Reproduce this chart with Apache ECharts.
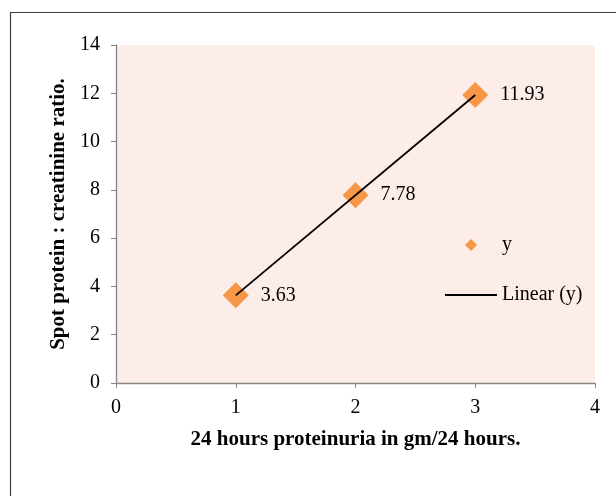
<!DOCTYPE html>
<html>
<head>
<meta charset="utf-8">
<script src="https://cdn.jsdelivr.net/npm/echarts@6/dist/echarts.min.js"></script>
<style>html,body{margin:0;padding:0;background:#fff;}#c{width:616px;height:496px;}</style>
</head>
<body>
<div id="c"></div>
<script>
const xValues = [1, 2, 3];
const yValues = [3.63, 7.78, 11.93];
const xTicks = [0, 1, 2, 3, 4];
const yTicks = [0, 2, 4, 6, 8, 10, 12, 14];
const seriesName = 'y';
const trendName = 'Linear (y)';
const xTitle = '24 hours proteinuria in gm/24 hours.';
const yTitle = 'Spot protein : creatinine ratio.';

// least-squares linear fit
const n = xValues.length;
const mx = xValues.reduce((a,b)=>a+b,0)/n;
const my = yValues.reduce((a,b)=>a+b,0)/n;
let sxy=0, sxx=0;
for (let i=0;i<n;i++){ sxy+=(xValues[i]-mx)*(yValues[i]-my); sxx+=(xValues[i]-mx)**2; }
const slope = sxy/sxx, icpt = my - slope*mx;
const xmin = Math.min(...xValues), xmax = Math.max(...xValues);
const trend = [[xmin, slope*xmin+icpt],[xmax, slope*xmax+icpt]];

const font = '"Liberation Serif", "Times New Roman", serif';
const chart = echarts.init(document.getElementById('c'));
chart.setOption({
  animation:false,
  textStyle:{fontFamily:font},
  graphic:[{type:'rect', shape:{x:10.5,y:12.5,width:640,height:520}, style:{fill:null, stroke:'#404040', lineWidth:1.2}, silent:true}],
  grid:{left:116, right:21, top:45, bottom:113, show:true, backgroundColor:'#fcede8', borderWidth:0},
  legend:{orient:'vertical', left:445, top:235, padding:0, itemWidth:52, itemHeight:12, itemGap:30,
    textStyle:{fontFamily:font, fontSize:20, color:'#000'},
    data:[{name:seriesName, icon:'path://M5,0 L10,5 L5,10 L0,5 Z'},
          {name:trendName, icon:'path://M0,0 L52,0 L52,1.8 L0,1.8 Z'}]},
  xAxis:{type:'value', min:xTicks[0], max:xTicks[xTicks.length-1], interval:1,
    name:xTitle, nameLocation:'middle', nameGap:46,
    nameTextStyle:{fontFamily:font, fontSize:21, fontWeight:'bold', color:'#000'},
    axisLine:{lineStyle:{color:'#868686', width:1.3}},
    axisTick:{show:true, length:5, lineStyle:{color:'#868686'}},
    axisLabel:{fontFamily:font, fontSize:20, color:'#000', margin:15},
    splitLine:{show:false}},
  yAxis:{type:'value', min:yTicks[0], max:yTicks[yTicks.length-1], interval:2,
    name:yTitle, nameLocation:'middle', nameGap:39, nameRotate:90,
    nameTextStyle:{fontFamily:font, fontSize:21, fontWeight:'bold', color:'#000'},
    axisLine:{show:true, lineStyle:{color:'#868686', width:1.3}},
    axisTick:{show:true, length:5, lineStyle:{color:'#868686'}},
    axisLabel:{fontFamily:font, fontSize:20, color:'#000', margin:16},
    splitLine:{show:false}},
  series:[
    {name:seriesName, type:'scatter', symbol:'diamond', symbolSize:26, z:2,
     itemStyle:{color:'#f79646', opacity:1},
     label:{show:true, position:'right', distance:12, fontFamily:font, fontSize:20, color:'#000'},
     labelLayout:null,
     data:xValues.map((x,i)=>({value:[x,yValues[i]], label:{formatter:yValues[i].toFixed(2)}}))},
    {name:trendName, type:'line', data:trend, symbol:'none', z:3,
     lineStyle:{color:'#000', width:1.8}, itemStyle:{color:'#000'}}
  ]
});
</script>
</body>
</html>
